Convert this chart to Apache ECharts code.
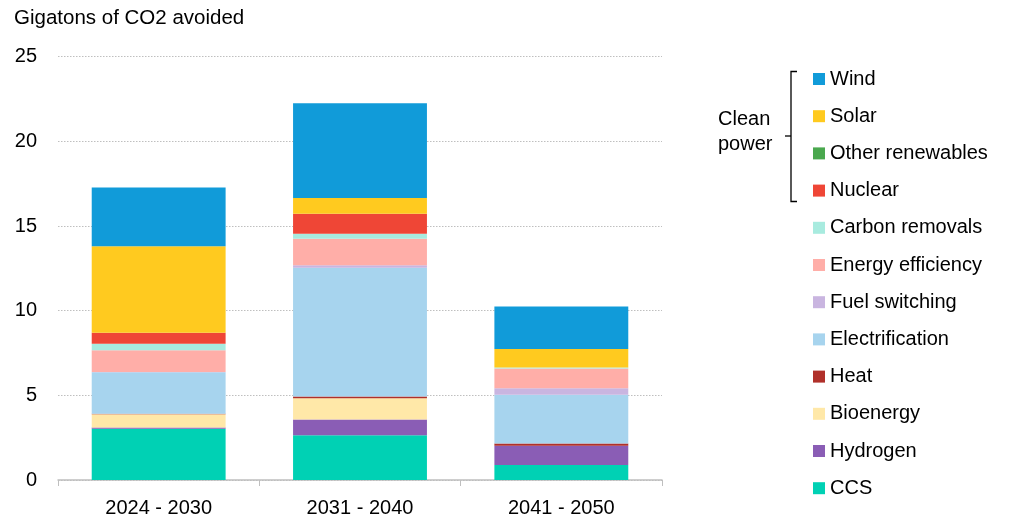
<!DOCTYPE html>
<html>
<head>
<meta charset="utf-8">
<script src="https://cdn.jsdelivr.net/npm/echarts@6/dist/echarts.min.js"></script>
<style>
  html, body { margin: 0; padding: 0; background: #ffffff; }
  #chart { width: 1011px; height: 518px; }
</style>
</head>
<body>
<div id="chart"></div>
<script>
// Periods on the x axis
const periods = ['2024 - 2030', '2031 - 2040', '2041 - 2050'];

// Abatement by lever, gigatons of CO2 avoided per period (stacked bottom to top)
const ccs             = [3.03, 2.64, 0.88];
const hydrogen        = [0.07, 0.94, 1.15];
const bioenergy       = [0.78, 1.25, 0.00];
const heat            = [0.03, 0.10, 0.12];
const electrification = [2.45, 7.61, 2.88];
const fuelSwitching   = [0.02, 0.15, 0.39];
const energyEfficiency= [1.28, 1.56, 1.16];
const carbonRemovals  = [0.39, 0.29, 0.07];
const nuclear         = [0.65, 1.18, 0.00];
const otherRenewables = [0.00, 0.00, 0.00];
const solar           = [5.10, 0.94, 1.08];
const wind            = [3.47, 5.59, 2.51];

// Y axis ticks
const yTicks = [0, 5, 10, 15, 20, 25];

const stackOrder = [
  { name: 'CCS',               data: ccs,              color: '#00D1B4' },
  { name: 'Hydrogen',          data: hydrogen,         color: '#8A5DB5' },
  { name: 'Bioenergy',         data: bioenergy,        color: '#FFE8A8' },
  { name: 'Heat',              data: heat,             color: '#B0302A' },
  { name: 'Electrification',   data: electrification,  color: '#A7D4EE' },
  { name: 'Fuel switching',    data: fuelSwitching,    color: '#C9B5E0' },
  { name: 'Energy efficiency', data: energyEfficiency, color: '#FFAEA8' },
  { name: 'Carbon removals',   data: carbonRemovals,   color: '#A8EBDF' },
  { name: 'Nuclear',           data: nuclear,          color: '#EF4636' },
  { name: 'Other renewables',  data: otherRenewables,  color: '#4AA84E' },
  { name: 'Solar',             data: solar,            color: '#FFCA1F' },
  { name: 'Wind',              data: wind,             color: '#119BD9' }
];

const FONT = 'Liberation Sans, Arial, sans-serif';
const chart = echarts.init(document.getElementById('chart'), null, { renderer: 'canvas' });

const series = stackOrder.map(s => ({
  name: s.name,
  type: 'bar',
  stack: 'total',
  data: s.data,
  barWidth: '66.5%',
  itemStyle: { color: s.color },
  emphasis: { disabled: true }
}));

chart.setOption({
  animation: false,
  backgroundColor: '#ffffff',
  textStyle: { fontFamily: FONT },
  title: {
    text: 'Gigatons of CO2 avoided',
    left: 9,
    top: 3,
    textStyle: { fontFamily: FONT, fontSize: 20.5, fontWeight: 'normal', color: '#000000' }
  },
  grid: { left: 58, right: 349, top: 56.7, bottom: 37.3 },
  xAxis: {
    type: 'category',
    data: periods,
    axisLine: { lineStyle: { color: '#BFBFBF', width: 1.5 } },
    axisTick: { show: true, length: 6, lineStyle: { color: '#BFBFBF', width: 1 } },
    axisLabel: { fontFamily: FONT, fontSize: 20, color: '#000000', margin: 18 }
  },
  yAxis: {
    type: 'value',
    min: yTicks[0],
    max: yTicks[yTicks.length - 1],
    interval: yTicks[1] - yTicks[0],
    axisLine: { show: false },
    axisTick: { show: false },
    axisLabel: { fontFamily: FONT, fontSize: 20, color: '#000000', margin: 21 },
    splitLine: { lineStyle: { color: '#BFBFBF', type: [1.5, 1.5], width: 1 } }
  },
  legend: {
    orient: 'vertical',
    left: 808,
    top: 64,
    itemWidth: 12,
    itemHeight: 12,
    itemGap: 17.2,
    icon: 'rect',
    selectedMode: false,
    data: stackOrder.map(s => s.name).reverse(),
    textStyle: { fontFamily: FONT, fontSize: 20, color: '#000000', lineHeight: 20, padding: [0, 0, 0, 0] }
  },
  graphic: [
    {
      type: 'text',
      left: 718,
      top: 107,
      style: {
        text: 'Clean\npower',
        font: '20px ' + FONT,
        fill: '#000000',
        align: 'center',
        lineHeight: 25
      }
    },
    {
      type: 'polyline',
      shape: { points: [[797, 71.5], [791, 71.5], [791, 201.5], [797, 201.5]] },
      style: { stroke: '#000000', lineWidth: 1.3, fill: null }
    },
    {
      type: 'line',
      shape: { x1: 785, y1: 136, x2: 791, y2: 136 },
      style: { stroke: '#000000', lineWidth: 1.3 }
    }
  ],
  series: series
});
</script>
</body>
</html>
